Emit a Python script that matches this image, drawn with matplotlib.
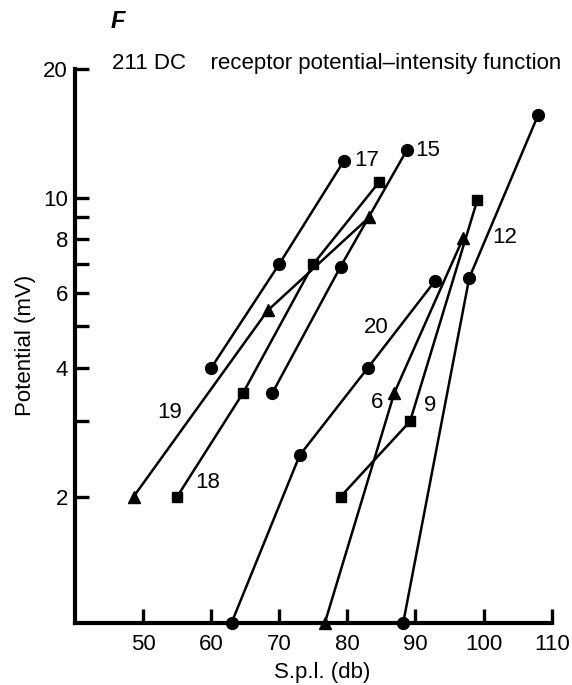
import numpy as np
import matplotlib
matplotlib.use("Agg")
import matplotlib.pyplot as plt
from matplotlib.ticker import FixedLocator, NullFormatter, NullLocator

## Data: receptor potential vs sound pressure level, one curve per frequency label
labels = ["17", "15", "18", "19", "20", "6", "9", "12"]
markers = ["o", "o", "s", "^", "o", "^", "s", "o"]
spl = [
    [60, 70, 79.5],
    [69, 79, 88.7],
    [55, 64.7, 75, 84.7],
    [48.6, 68.3, 83.2],
    [63, 73, 83, 92.9],
    [76.7, 86.9, 97],
    [79, 89.2, 99.1],
    [88.2, 97.9, 108],
]
potential = [
    [4, 7, 12.2],
    [3.5, 6.9, 12.9],
    [2, 3.5, 7, 10.9],
    [2, 5.45, 9.0],
    [1.015, 2.5, 4, 6.4],
    [1.015, 3.5, 8.05],
    [2, 3, 9.9],
    [1.015, 6.5, 15.6],
]
# where each curve number is written
label_x = [82.8, 91.8, 59.5, 53.9, 84.3, 84.3, 92.2, 103.1]
label_y = [12.2, 12.87, 2.16, 3.15, 4.97, 3.32, 3.27, 8.06]

x_ticks = [50, 60, 70, 80, 90, 100, 110]
y_major = [2, 4, 6, 8, 10, 20]
y_minor = [3, 5, 7, 9]

plt.rcParams["font.family"] = ["Liberation Sans", "DejaVu Sans"]

fig = plt.figure(figsize=(5.72, 6.85), dpi=100)
ax = fig.add_axes([0.1311, 0.0910, 0.9645 - 0.1311, 0.8993 - 0.0910])

sizes = {"o": 8.5, "s": 7, "^": 8}
for xs, ys, m in zip(spl, potential, markers):
    ax.plot(xs, ys, color="black", lw=1.8, marker=m, ms=sizes[m],
            clip_on=False, zorder=3)

for t, lx, ly in zip(labels, label_x, label_y):
    ax.text(lx, ly, t, fontsize=16, ha="center", va="center")

ax.set_yscale("log")
ax.set_xlim(40, 110)
ax.set_ylim(1.015, 20)

ax.xaxis.set_major_locator(FixedLocator(x_ticks))
ax.set_xticklabels([str(v) for v in x_ticks])
ax.yaxis.set_major_locator(FixedLocator(y_major))
ax.set_yticklabels([str(v) for v in y_major])
ax.yaxis.set_minor_locator(FixedLocator(y_minor))
ax.yaxis.set_minor_formatter(NullFormatter())
ax.xaxis.set_minor_locator(NullLocator())

ax.tick_params(which="both", direction="in", length=10, width=2.4,
               labelsize=16, color="black")
ax.tick_params(axis="y", pad=5)
ax.tick_params(axis="x", pad=8)

for side in ["top", "right"]:
    ax.spines[side].set_visible(False)
for side in ["left", "bottom"]:
    ax.spines[side].set_linewidth(3)
    ax.spines[side].set_capstyle("projecting")

ax.set_ylabel("Potential (mV)", fontsize=16)
ax.yaxis.set_label_coords(-0.082, 0.5)
ax.set_xlabel("S.p.l. (db)", fontsize=16)
ax.xaxis.set_label_coords(0.518, -0.071)

fig.text(118 / 572, 1 - 21 / 685, "F", fontsize=17, fontweight="bold",
         fontstyle="italic", ha="center", va="center")
fig.text(112 / 572, 1 - 63 / 685,
         "211 DC    receptor potential\u2013intensity function",
         fontsize=16, ha="left", va="center")

fig.savefig("out.png", dpi=100)
